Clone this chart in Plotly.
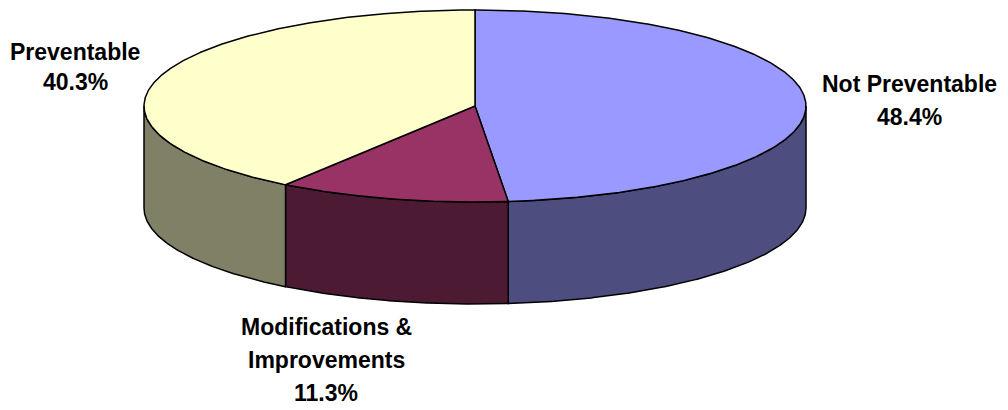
import numpy as np
import plotly.graph_objects as go

# Share of incidents by category
categories = ["Not Preventable", "Modifications & Improvements", "Preventable"]
label_lines = [["Not Preventable"], ["Modifications &", "Improvements"], ["Preventable"]]
values = [48.4, 11.3, 40.3]

top_colors = ["#9999FF", "#993366", "#FFFFCC"]
side_colors = ["#4D4D80", "#4D1A33", "#808066"]

# Pie geometry in page pixels (x right, y down)
CX, CY = 475.0, 106.0
RX, RY = 331.0, 96.0
DEPTH = 102.0
EDGE = dict(color="black", width=1.5)


def rim(theta_deg, drop=0.0):
    t = np.radians(theta_deg)
    return CX + RX * np.sin(t), CY - RY * np.cos(t) + drop


fig = go.Figure()

total = float(sum(values))
bounds = np.concatenate([[0.0], np.cumsum(values) / total * 360.0])

# Side walls: only the front half (90..270 deg clockwise from top) is visible
for i in range(len(values)):
    a, b = max(bounds[i], 90.0), min(bounds[i + 1], 270.0)
    if b <= a:
        continue
    th = np.linspace(a, b, 200)
    xt, yt = rim(th)
    xb, yb = rim(th[::-1], DEPTH)
    fig.add_trace(go.Scatter(
        x=np.concatenate([xt, xb, xt[:1]]),
        y=np.concatenate([yt, yb, yt[:1]]),
        mode="lines", fill="toself", fillcolor=side_colors[i],
        line=EDGE, hoverinfo="skip", showlegend=False,
    ))

# Top faces
for i in range(len(values)):
    th = np.linspace(bounds[i], bounds[i + 1], 400)
    xt, yt = rim(th)
    fig.add_trace(go.Scatter(
        x=np.concatenate([[CX], xt, [CX]]),
        y=np.concatenate([[CY], yt, [CY]]),
        mode="lines", fill="toself", fillcolor=top_colors[i],
        line=EDGE, hoverinfo="skip", showlegend=False,
    ))

# Category labels with percentages, one annotation per text line
LABEL_FONT = dict(family="Arial, Liberation Sans, sans-serif", size=23, color="black")
label_anchor = [(909, 84, 33), (326, 327, 33), (75, 52, 30)]
for lines, v, (lx, ly, pitch) in zip(label_lines, values, label_anchor):
    for k, txt in enumerate(lines + [f"{v:.1f}%"]):
        fig.add_annotation(
            x=lx, y=ly + k * pitch, xref="x", yref="y", showarrow=False,
            text=f"<b>{txt}</b>", font=LABEL_FONT,
            xanchor="center", yanchor="middle",
        )

fig.update_layout(
    width=1008, height=410, autosize=False,
    margin=dict(l=0, r=0, t=0, b=0),
    paper_bgcolor="white", plot_bgcolor="white",
    xaxis=dict(range=[0, 1008], visible=False, fixedrange=True),
    yaxis=dict(range=[410, 0], visible=False, fixedrange=True),
)

fig.write_html("out.html")
